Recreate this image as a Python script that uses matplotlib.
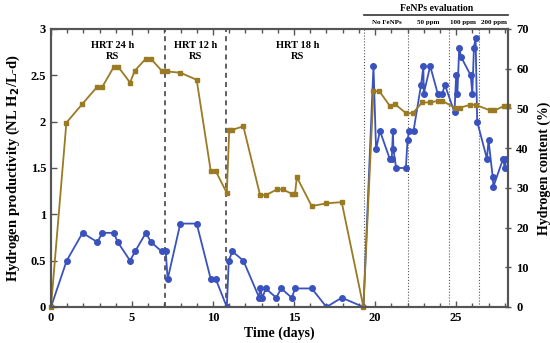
import matplotlib
matplotlib.use("Agg")
from matplotlib import pyplot as plt
from matplotlib.ticker import MultipleLocator

# Hydrogen productivity (left axis)
days_p = [0, 0.97, 1.95, 2.86, 3.17, 3.87, 4.12, 4.88, 5.19, 5.86,
          6.17, 6.83, 7.08, 7.2, 7.98, 8.99, 9.86, 10.17, 10.85, 10.97,
          11.19, 11.87, 12.85, 12.9, 13.05, 13.25, 13.9, 14.2, 14.86, 15.06,
          16.09, 17.0, 17.94, 19.28, 19.9, 20.06, 20.3, 20.9, 21.03, 21.1,
          21.13, 21.3, 21.9, 22.0, 22.1, 22.37, 22.84, 22.98, 23.0, 23.4,
          23.87, 24.15, 24.3, 24.9, 25.0, 25.08, 25.19, 25.3, 25.9, 26.0,
          26.1, 26.2, 26.3, 26.9, 27.0, 27.26, 27.3, 27.9, 28.0, 28.1]
productivity = [0, 0.5, 0.8, 0.7, 0.8, 0.8, 0.7, 0.5, 0.6, 0.8,
                0.7, 0.6, 0.6, 0.3, 0.9, 0.9, 0.3, 0.3, 0, 0.5,
                0.6, 0.5, 0.1, 0.2, 0.1, 0.2, 0.1, 0.2, 0.1, 0.2,
                0.2, 0, 0.1, 0, 2.6, 1.7, 1.9, 1.6, 1.6, 1.9,
                1.7, 1.5, 1.5, 1.8, 1.9, 1.9, 2.4, 2.6, 2.3, 2.6,
                2.3, 2.3, 2.4, 2.1, 2.5, 2.3, 2.8, 2.7, 2.5, 2.3,
                2.8, 2.9, 2.0, 1.6, 1.8, 1.4, 1.3, 1.6, 1.5, 1.6]

# Hydrogen content (right axis, %)
days_c = [0, 0.95, 1.93, 2.82, 3.15, 3.87, 4.16, 4.88, 5.17, 5.85,
          6.17, 6.87, 7.14, 7.98, 8.99, 9.86, 10.17, 10.85, 11.0, 11.19,
          11.87, 12.9, 13.27, 13.95, 14.3, 14.86, 15.06, 15.17, 16.09, 17.0,
          17.94, 19.28, 19.9, 20.27, 20.93, 21.23, 21.9, 22.33, 22.9, 23.4,
          23.87, 24.15, 24.9, 25.25, 25.86, 26.2, 27.1, 27.36, 27.96, 28.2]
content = [0, 46.4, 51.1, 55.3, 55.3, 60.4, 60.4, 56.5, 59.5, 62.5,
           62.5, 59.3, 59.3, 59.0, 57.2, 34.2, 34.2, 28.7, 44.6, 44.6,
           45.5, 28.2, 28.2, 29.6, 29.6, 28.5, 28.5, 32.7, 25.4, 26.1,
           26.4, 0, 54.3, 54.3, 50.5, 51.1, 48.8, 48.8, 51.5, 51.5,
           51.9, 51.9, 50.2, 50.2, 50.9, 50.9, 49.5, 49.5, 50.6, 50.6]

hrt_lines = [7.05, 10.82]
fenp_lines = [19.3, 22.05, 24.55, 26.42]
phase_labels = ["HRT 24 h\nRS", "HRT 12 h\nRS", "HRT 18 h\nRS"]
phase_x = [3.8, 8.93, 15.2]
fenp_labels = ["No FeNPs", "50 ppm", "100 ppm", "200 ppm"]
fenp_x = [20.7, 23.25, 25.4, 27.35]

plt.rcParams["font.family"] = ["Liberation Serif", "DejaVu Serif"]
plt.rcParams["font.weight"] = "bold"
plt.rcParams["axes.labelweight"] = "bold"

blue = "#3a52bd"
olive = "#9a7a22"
spine = "#555555"

fig = plt.figure(figsize=(5.5, 3.43), dpi=100)
ax = fig.add_axes([0.0927, 0.105, 0.8309, 0.8105])
ax2 = ax.twinx()

ax.plot(days_p, productivity, color=blue, marker="o", markersize=4, linewidth=1.3, zorder=3)
ax2.plot(days_c, content, color=olive, marker="s", markersize=3.5, linewidth=1.3, clip_on=False)

for x in hrt_lines:
    ax.axvline(x, color="#444444", linestyle=(0, (3, 2.5)), linewidth=1.2)
for x in fenp_lines:
    ax.axvline(x, color="#555555", linestyle=":", linewidth=0.8)

ax.set_xlim(0, 28.2)
ax.set_ylim(0, 3)
ax2.set_ylim(0, 70)
ax.xaxis.set_major_locator(MultipleLocator(5))
ax.xaxis.set_minor_locator(MultipleLocator(1))
ax.set_yticks([0, 0.5, 1, 1.5, 2, 2.5, 3], ["0", "0.5", "1", "1.5", "2", "2.5", "3"])
ax2.yaxis.set_major_locator(MultipleLocator(10))

ax.tick_params(which="both", direction="in", top=True, labelsize=9, color=spine, width=1)
ax.tick_params(which="major", length=4)
ax.tick_params(which="minor", length=3)
ax.tick_params(axis="y", right=False)
ax2.tick_params(direction="inout", length=5, labelsize=9, color=spine, width=1)
for a in (ax, ax2):
    for s in a.spines.values():
        s.set_color(spine)
        s.set_linewidth(1.5)

ax.set_xlabel("Time (days)", fontsize=10, labelpad=2)
ax.set_ylabel("Hydrogen productivity (NL H$_\\mathbf{2}$/L-d)", fontsize=10.5, labelpad=6)
ax2.set_ylabel("Hydrogen content (%)", fontsize=10, labelpad=6)

for label, x in zip(phase_labels, phase_x):
    ax.text(x, 2.87, label, ha="center", va="top", fontsize=7.5, linespacing=1.3)

# FeNPs header above the plot
for label, x in zip(fenp_labels, fenp_x):
    ax.text(x, 3.07, label, ha="center", va="center", fontsize=5)
ax.plot([19.3, 28.2], [3.15, 3.15], color="#333333", linewidth=1.2, clip_on=False)
ax.text(23.8, 3.225, "FeNPs evaluation", ha="center", va="center", fontsize=7)

fig.savefig("out.png", dpi=100)
